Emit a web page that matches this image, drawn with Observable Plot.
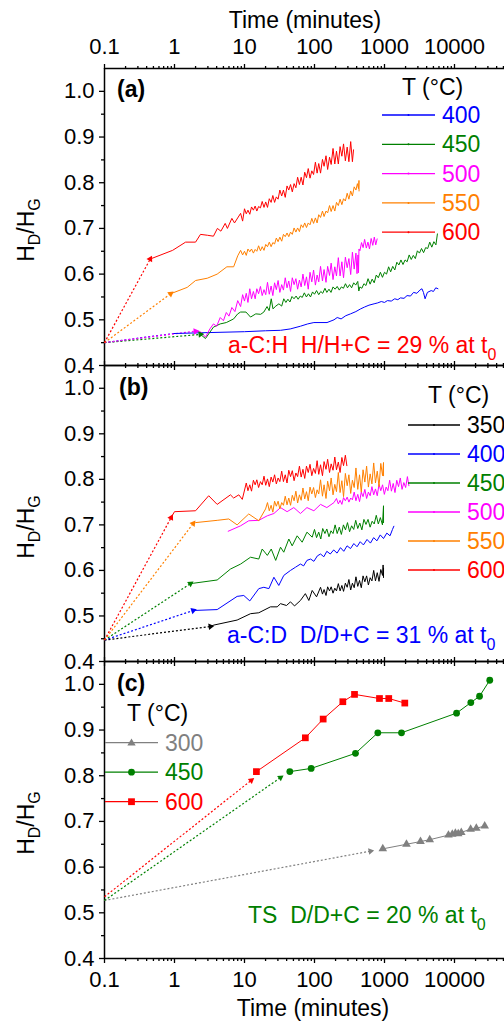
<!DOCTYPE html>
<html><head><meta charset="utf-8">
<script src="https://cdn.jsdelivr.net/npm/d3@7"></script>
<script src="https://cdn.jsdelivr.net/npm/@observablehq/plot@0.6"></script>
<style>
body{margin:0;background:#fff;}
#wrap{position:relative;width:504px;height:1026px;overflow:hidden;background:#fff;}
</style></head><body><div id="wrap"></div>
<script>
const FONT = '"Liberation Sans", Arial, Helvetica, sans-serif';

// ---------- scales / ticks ----------
const xDomain = [0.1, 51800];
const yDomain = [0.4, 1.05];
const xMajor = [0.1, 1, 10, 100, 1000, 10000];
const xMinorMult = [2, 3, 4, 5, 6, 7, 8, 9];
const yMajor = [0.4, 0.5, 0.6, 0.7, 0.8, 0.9, 1.0];
const yMinor = [0.45, 0.55, 0.65, 0.75, 0.85, 0.95];

// ---------- categories ----------
const tempsA = ["400", "450", "500", "550", "600"];
const tempsB = ["350", "400", "450", "500", "550", "600"];
const tempsC = ["300", "450", "600"];
const tempColors = {"300": "#808080", "350": "#000000", "400": "#0000ff", "450": "#008000", "500": "#ff00ff", "550": "#ff8000", "600": "#ff0000"};

// ---------- panel (a) a-C:H : [time (min), HD/HG] ----------
const a400 = [[0.98,0.470],[3,0.472],[10,0.474],[20,0.476],[32.7,0.477],[45,0.480],[63,0.486],[80,0.491],[98,0.494],[151,0.494],[190,0.500],[211,0.505],[240,0.502],[280,0.509],[327,0.513],[390,0.518],[457,0.524],[520,0.528],[600,0.532],[710,0.535],[800,0.537],[900,0.540],[1000,0.538],[1100,0.542],[1250,0.541],[1400,0.546],[1550,0.544],[1690,0.548],[1900,0.547],[2100,0.553],[2350,0.552],[2600,0.560],[2900,0.558],[3200,0.565],[3430,0.568],[3600,0.560],[3800,0.546],[4100,0.560],[4650,0.564],[5000,0.562],[5400,0.570],[5800,0.568]];
const a450 = [[2.35,0.468],[2.77,0.459],[3.6,0.484],[4.5,0.491],[5.5,0.494],[7.0,0.502],[8.0,0.513],[8.8,0.517],[10.5,0.517],[12.2,0.506],[14.5,0.513],[17,0.512],[18.9,0.517],[21,0.529],[22.5,0.520],[24.1,0.546],[25.5,0.524],[28,0.530],[31,0.535],[34,0.530],
  [36.4,0.546],[39,0.538],[41.7,0.545],[44.6,0.539],[47.7,0.551],[51,0.546],[54.6,0.552],[58.4,0.545],[62.5,0.552],[66.9,0.549],[71.6,0.559],[76.6,0.550],[82,0.557],[87.7,0.550],[93.8,0.561],[100,0.556],[107,0.564],[115,0.555],[123,0.562],[131,0.558],[141,0.569],[150,0.560],[161,0.567],[172,0.560],[184,0.572],[197,0.567],[211,0.573],[226,0.565],[242,0.572],[259,0.569],[277,0.579],[296,0.570],[317,0.577],[339,0.570],[363,0.581],[388,0.576],[415,0.584],[430,0.563],[444,0.572],[475,0.569],[508,0.579],[544,0.575],[582,0.590],[623,0.578],[666,0.589],[713,0.581],[763,0.598],[816,0.592],[873,0.604],[935,0.593],[1000,0.604],[1070,0.600],[1145,0.616],[1225,0.605],[1311,0.617],[1403,0.609],[1501,0.626],[1606,0.620],[1718,0.631],[1838,0.621],[1967,0.631],[2105,0.627],[2252,0.642],[2410,0.632],[2579,0.641],[2759,0.634],[2952,0.651],[3159,0.646],[3380,0.656],[3617,0.647],[3870,0.658],[4141,0.656],[4430,0.670],[4740,0.659],[5072,0.671],[5427,0.664],[5700,0.688]];
const a500 = [[2.0,0.475],[2.4,0.473],[2.77,0.462],[3.2,0.480],[3.6,0.491],[4.0,0.486],[4.5,0.505],[5.0,0.498],[5.5,0.516],[6.0,0.508],[6.6,0.527],[7.3,0.518],[8.0,0.542],
  [8.8,0.529],[9.4,0.555],[10,0.541],[10.6,0.558],[11.2,0.538],[11.9,0.568],[12.6,0.546],[13.4,0.562],[14.2,0.546],[15,0.568],[15.9,0.557],[16.9,0.573],[17.9,0.553],[19,0.566],[20.1,0.555],[21.3,0.582],[22.6,0.556],[24,0.574],[25.4,0.553],[26.9,0.581],[28.5,0.566],[30.2,0.586],[32,0.560],[34,0.577],[36,0.565],[38.2,0.592],[40.5,0.570],[42.9,0.585],[45.5,0.562],[48.2,0.592],[51.1,0.577],[54.2,0.590],[57.4,0.567],[60.9,0.587],[64.5,0.572],[68.4,0.600],[72.5,0.575],[76.8,0.594],[81.4,0.567],[86.3,0.604],[91.5,0.583],[97,0.609],[103,0.576],[109,0.598],[115,0.583],[122,0.617],[130,0.585],[137,0.610],[146,0.582],[154,0.617],[164,0.597],[173,0.624],[184,0.588],[195,0.616],[206,0.596],[219,0.636],[232,0.596],[246,0.627],[260,0.592],[276,0.637],[293,0.614],[310,0.634],[329,0.599],[348,0.648],[369,0.611],[391,0.646],[405,0.601],[418,0.642],[425,0.603],
  [432,0.655],[445,0.651],[470,0.669],[495,0.658],[520,0.676],[550,0.657],[580,0.670],[610,0.655],[645,0.678],[680,0.663],[715,0.681],[750,0.664],[785,0.677]];
const a550 = [[0.88,0.557],[1.52,0.571],[2.0,0.586],[2.94,0.591],[4.07,0.600],[5.6,0.616],[7.0,0.616],[8.0,0.640],
  [8.8,0.652],[9.4,0.642],[10,0.650],[10.6,0.641],[11.2,0.655],[11.9,0.649],[12.6,0.655],[13.4,0.646],[14.2,0.654],[15,0.650],[15.9,0.662],[16.9,0.651],[17.9,0.660],[19,0.652],[20.1,0.665],[21.3,0.660],[22.6,0.670],[24,0.660],[25.4,0.669],[26.9,0.666],[28.5,0.679],[30.2,0.671],[32,0.681],[34,0.672],[36,0.687],[38.2,0.682],[40.5,0.690],[42.9,0.682],[45.5,0.692],[48.2,0.687],[51.1,0.701],[54.2,0.692],[57.4,0.701],[60.9,0.693],[64.5,0.708],[68.4,0.702],[72.5,0.712],[76.8,0.702],[81.4,0.712],[86.3,0.708],[91.5,0.722],[97,0.711],[103,0.723],[109,0.712],[115,0.730],[122,0.724],[130,0.738],[137,0.726],[146,0.738],[154,0.734],[164,0.750],[173,0.737],[184,0.750],[195,0.738],[206,0.757],[219,0.750],[232,0.764],[246,0.752],[260,0.765],[276,0.760],[293,0.777],[310,0.764],[329,0.782],[348,0.771],[369,0.791],[391,0.784],[410,0.798],[425,0.787],[432,0.805],[433,0.782]];
const a600 = [[0.45,0.633],[0.94,0.652],[1.44,0.670],[2.0,0.670],[2.35,0.687],[2.96,0.685],[3.6,0.683],[4.1,0.700],[4.6,0.694],[5.3,0.711],[5.7,0.700],[6.6,0.722],[7.2,0.712],[8.8,0.733],[9.4,0.716],
  [10,0.743],[10.6,0.732],[11.2,0.740],[11.9,0.731],[12.6,0.747],[13.4,0.740],[14.2,0.749],[15,0.738],[15.9,0.748],[16.9,0.745],[17.9,0.759],[19,0.746],[20.1,0.758],[21.3,0.746],[22.6,0.765],[24,0.757],[25.4,0.772],[26.9,0.757],[28.5,0.769],[30.2,0.764],[32,0.784],[34,0.771],[36,0.784],[38.2,0.768],[40.5,0.793],[42.9,0.784],[45.5,0.796],[48.2,0.780],[51.1,0.798],[54.2,0.789],[57.4,0.812],[60.9,0.796],[64.5,0.812],[68.4,0.795],[72.5,0.823],[76.8,0.811],[81.4,0.831],[86.3,0.810],[91.5,0.826],[97,0.818],[103,0.845],[109,0.821],[115,0.842],[122,0.821],[130,0.851],[137,0.836],[146,0.859],[154,0.829],[164,0.856],[173,0.840],[184,0.875],[195,0.841],[206,0.869],[219,0.841],[232,0.879],[246,0.858],[260,0.885],[276,0.848],[293,0.878],[310,0.846],[329,0.890],[348,0.846],[361,0.872]];
const leadStartA = {"400": 0.45, "450": 0.45, "500": 0.45, "550": 0.45, "600": 0.45};
const leadEndA = {"400": [0.98, 0.470], "450": [2.35, 0.468], "500": [2.0, 0.475], "550": [0.88, 0.557], "600": [0.45, 0.633]};
const arrowsA = ["450", "500", "550", "600"];

// ---------- panel (b) a-C:D ----------
const b350 = [[3.27,0.477],[3.65,0.480],[7.85,0.491],[12.2,0.505],[16,0.507],[23.5,0.520],[29.3,0.520],[32.7,0.527],[39.8,0.523],[45.4,0.531],[51.8,0.522],[63,0.534],[74,0.549],[83,0.534],[92.7,0.556],[107,0.542],
  [122,0.563],[130,0.548],[137,0.558],[146,0.545],[154,0.564],[164,0.555],[173,0.564],[184,0.550],[195,0.561],[206,0.555],[219,0.571],[232,0.555],[246,0.567],[260,0.554],[276,0.572],[293,0.563],[310,0.580],[329,0.557],[348,0.572],[369,0.562],[391,0.586],[415,0.565],[440,0.578],[466,0.562],[494,0.588],[524,0.575],[555,0.588],[589,0.568],[624,0.584],[661,0.577],[701,0.600],[743,0.577],[788,0.595],[835,0.576],[885,0.602],[938,0.589],[955,0.612],[968,0.584],[969,0.605]];
const b400 = [[1.85,0.512],[4.07,0.514],[7.85,0.543],[9.77,0.545],[11.9,0.533],[16,0.560],[18.9,0.563],[22.3,0.560],[26.3,0.585],[30.9,0.567],[36.4,0.589],[45.4,0.600],[53.5,0.607],[63,0.614],[70,0.610],[78,0.622],[88,0.625],[98,0.620],[110,0.632],[122,0.636],[136,0.630],[150,0.642],[168,0.636],[188,0.645],[210,0.638],[235,0.650],[262,0.642],[292,0.654],[327,0.648],[365,0.659],[405,0.652],[450,0.663],[500,0.656],[563,0.668],[630,0.660],[700,0.672],[780,0.665],[870,0.678],[968,0.670],[1080,0.682],[1200,0.676],[1300,0.690],[1360,0.697]];
const b450 = [[1.69,0.571],[1.89,0.572],[4.07,0.579],[6.3,0.603],[8.8,0.614],[12.2,0.629],[16,0.625],[17.9,0.647],[21.2,0.633],[24.1,0.647],[27.9,0.622],[32.7,0.651],[36.4,0.640],[43,0.669],[48,0.654],[56.5,0.676],[66.6,0.662],[78,0.684],[92.7,0.673],
  [100,0.690],[107,0.672],[115,0.684],[123,0.669],[131,0.692],[141,0.681],[150,0.691],[161,0.674],[172,0.687],[184,0.681],[197,0.700],[211,0.681],[226,0.695],[242,0.679],[259,0.700],[277,0.689],[296,0.705],[317,0.685],[339,0.698],[363,0.690],[388,0.710],[415,0.692],[444,0.704],[475,0.689],[508,0.712],[544,0.701],[582,0.712],[623,0.695],[666,0.708],[713,0.702],[763,0.721],[816,0.702],[873,0.716],[935,0.700],[968,0.742],[969,0.705]];
const b500 = [[5.85,0.686],[8.8,0.698],[11.5,0.709],[16,0.710],[21.2,0.720],[26.3,0.725],[32.7,0.738],[40.6,0.729],[50.6,0.738],[63,0.725],[78,0.738],[98,0.731],[122,0.745],[150,0.738],[190,0.749],
  [206,0.758],[219,0.746],[232,0.754],[246,0.745],[260,0.760],[276,0.753],[293,0.761],[310,0.750],[329,0.759],[348,0.755],[369,0.772],[391,0.753],[415,0.767],[440,0.751],[466,0.772],[494,0.762],[524,0.778],[555,0.758],[589,0.772],[624,0.764],[661,0.784],[701,0.766],[743,0.779],[788,0.764],[835,0.789],[885,0.775],[938,0.788],[995,0.767],[1055,0.783],[1118,0.775],[1185,0.798],[1256,0.774],[1332,0.791],[1412,0.771],[1497,0.798],[1587,0.784],[1682,0.803],[1783,0.778],[1890,0.793],[2004,0.782],[2125,0.806],[2230,0.786]];
const b550 = [[1.85,0.703],[2.0,0.705],[4.07,0.710],[5.96,0.713],[7.85,0.700],[11.5,0.724],[16,0.709],[20,0.735],
  [21.3,0.749],[22.6,0.731],[24,0.743],[25.4,0.728],[26.9,0.752],[28.5,0.741],[30.2,0.752],[32,0.735],[34,0.749],[36,0.743],[38.2,0.763],[40.5,0.744],[42.9,0.759],[45.5,0.743],[48.2,0.765],[51.1,0.753],[54.2,0.774],[57.4,0.748],[60.9,0.766],[64.5,0.754],[68.4,0.781],[72.5,0.757],[76.8,0.773],[81.4,0.753],[86.3,0.783],[91.5,0.768],[97,0.782],[103,0.760],[109,0.777],[115,0.768],[122,0.799],[130,0.763],[137,0.788],[146,0.758],[154,0.796],[164,0.775],[173,0.803],[184,0.766],[195,0.789],[206,0.773],[219,0.815],[232,0.771],[246,0.797],[260,0.762],[276,0.813],[293,0.786],[310,0.810],[329,0.769],[348,0.798],[369,0.782],[391,0.825],[415,0.778],[440,0.810],[466,0.772],[494,0.821],[524,0.794],[555,0.829],[589,0.783],[624,0.812],[661,0.790],[701,0.836],[743,0.792],[788,0.818],[835,0.784],[885,0.835],[938,0.808],[968,0.837],[969,0.808]];
const b600 = [[0.895,0.716],[1.0,0.729],[2.0,0.731],[3.08,0.764],[4.07,0.745],[6.3,0.766],[7,0.759],[8.3,0.766],[9.3,0.756],
  [10.6,0.792],[11.2,0.775],[11.9,0.788],[12.6,0.774],[13.4,0.798],[14.2,0.788],[15,0.799],[15.9,0.782],[16.9,0.795],[17.9,0.788],[19,0.807],[20.1,0.787],[21.3,0.801],[22.6,0.784],[24,0.805],[25.4,0.794],[26.9,0.810],[28.5,0.790],[30.2,0.803],[32,0.795],[34,0.818],[36,0.795],[38.2,0.810],[40.5,0.792],[42.9,0.820],[45.5,0.806],[48.2,0.819],[51.1,0.797],[54.2,0.814],[57.4,0.806],[60.9,0.829],[64.5,0.805],[68.4,0.822],[72.5,0.802],[76.8,0.829],[81.4,0.815],[86.3,0.833],[91.5,0.808],[97,0.824],[103,0.813],[109,0.841],[115,0.811],[122,0.832],[130,0.808],[137,0.839],[146,0.822],[154,0.844],[164,0.815],[173,0.834],[184,0.820],[195,0.849],[206,0.821],[219,0.838],[232,0.815],[246,0.848],[260,0.830],[276,0.853],[290,0.830]];
const leadStartB = {"350": 0.447, "400": 0.447, "450": 0.447, "550": 0.447, "600": 0.447};
const leadEndB = {"350": [3.27, 0.477], "400": [1.85, 0.512], "450": [1.69, 0.571], "550": [1.85, 0.703], "600": [0.895, 0.716]};
const arrowsB = ["350", "400", "450", "550", "600"];

// ---------- panel (c) TS ----------
const c300 = [[946,0.640],[2060,0.650],[3270,0.656],[4430,0.660],[8200,0.670],[9300,0.672],[10300,0.674],[11300,0.673],[12500,0.676],[17000,0.683],[20500,0.685],[27000,0.690]];
const c450 = [[44.4,0.809],[89.6,0.816],[385,0.849],[803,0.894],[1750,0.894],[10700,0.937],[17100,0.960],[22800,0.974],[31900,1.009]];
const c600 = [[14.8,0.809],[74,0.883],[133,0.924],[254,0.962],[373,0.978],[848,0.969],[1150,0.969],[1950,0.959]];
const leadStartC = {"300": 0.527, "450": 0.527, "600": 0.535};
const leadEndC = {"300": [631, 0.635], "450": [32.7, 0.796], "600": [12.5, 0.790]};
const arrowsC = ["300", "450", "600"];
const symbolsC = {"300": "triangle", "450": "circle", "600": "square"};
const symbolR = {"triangle": 3.2, "circle": 3.4, "square": 3.8};

// ---------- build ----------
const xMinor = xMajor.flatMap(d => xMinorMult.map(m => d * m)).filter(d => d <= xDomain[1]);
const axisStroke = 1.3;

function buildPanel(cfg) {
  const {temps, series, leadStart, leadEnd, arrows, height, marginTop, marginBottom, topText, bottomText, symbols} = cfg;
  const xs = Plot.scale({x: {type: "log", domain: xDomain, range: [104, 504]}});
  const ys = Plot.scale({y: {domain: yDomain, range: [height - marginBottom, marginTop]}});
  const leads = temps.filter(T => leadEnd[T]).map(T => {
    const d = {T, t0: xDomain[0], v0: leadStart[T], t1: leadEnd[T][0], v1: leadEnd[T][1]};
    const dx = xs.apply(d.t1) - xs.apply(d.t0);
    const dy = ys.apply(d.v1) - ys.apply(d.v0);
    d.angle = Math.atan2(dx, -dy) * 180 / Math.PI;
    return d;
  });
  const marks = [
    Plot.ruleX([xDomain[0]], {stroke: "#000", strokeWidth: 1.5}),
    Plot.ruleY(yDomain, {stroke: "#000", strokeWidth: 1.5}),
    Plot.axisY({ticks: yMajor, tickSize: 5, tickPadding: 5, tickFormat: d3.format(".1f"), label: null, strokeWidth: axisStroke}),
    Plot.axisY({ticks: yMinor, tickSize: 3, fill: "none", label: null, strokeWidth: axisStroke})
  ];
  for (const anchor of ["top", "bottom"]) {
    const withText = (anchor === "top" && topText) || (anchor === "bottom" && bottomText);
    marks.push(Plot.axisX({anchor, ticks: xMajor, tickSize: 5, tickPadding: anchor === "top" ? 10 : 8,
      tickFormat: d => String(d), fill: withText ? "#000" : "none", label: null, strokeWidth: axisStroke}));
    marks.push(Plot.axisX({anchor, ticks: xMinor, tickSize: 3, fill: "none", label: null, strokeWidth: axisStroke}));
  }
  for (const d of leads) {
    marks.push(Plot.link([d], {x1: "t0", y1: "v0", x2: "t1", y2: "v1", stroke: tempColors[d.T], strokeWidth: 1.2, strokeDasharray: "2,2"}));
  }
  for (const T of temps) {
    marks.push(Plot.line(series[T], {x: d => d[0], y: d => d[1], stroke: tempColors[T], strokeWidth: 1}));
    if (symbols) {
      marks.push(Plot.dot(series[T], {x: d => d[0], y: d => d[1], symbol: symbols[T], r: symbolR[symbols[T]], fill: tempColors[T], stroke: "none"}));
    }
  }
  for (const d of leads.filter(d => arrows.includes(d.T))) {
    marks.push(Plot.dot([d], {x: "t1", y: "v1", symbol: "triangle", r: 2.4, fill: tempColors[d.T], stroke: "none", rotate: "angle"}));
  }
  const svg = Plot.plot({
    width: 504, height, marginLeft: 104, marginRight: 0, marginTop, marginBottom,
    x: {type: "log", domain: xDomain},
    y: {domain: yDomain},
    style: {fontFamily: FONT, fontSize: "22px", color: "#000", background: "transparent", overflow: "visible"},
    marks
  });
  svg.style.position = "absolute";
  svg.style.left = "0px";
  svg.style.top = cfg.top + "px";
  return svg;
}

const wrap = document.getElementById("wrap");
wrap.appendChild(buildPanel({temps: tempsA, series: {"400": a400, "450": a450, "500": a500, "550": a550, "600": a600},
  leadStart: leadStartA, leadEnd: leadEndA, arrows: arrowsA, height: 365, marginTop: 68, marginBottom: 0, topText: true, bottomText: false, top: 0}));
wrap.appendChild(buildPanel({temps: tempsB, series: {"350": b350, "400": b400, "450": b450, "500": b500, "550": b550, "600": b600},
  leadStart: leadStartB, leadEnd: leadEndB, arrows: arrowsB, height: 296, marginTop: 0, marginBottom: 0, topText: false, bottomText: false, top: 365}));
wrap.appendChild(buildPanel({temps: tempsC, series: {"300": c300, "450": c450, "600": c600},
  leadStart: leadStartC, leadEnd: leadEndC, arrows: arrowsC, height: 365, marginTop: 0, marginBottom: 68, topText: false, bottomText: true, symbols: symbolsC, top: 661}));

// ---------- overlay texts & legends ----------
const NB = "\u00a0";
const sub = (s, dy) => `<tspan dy="${dy}" font-size="16">${s}</tspan>`;
function legendLines(temps, x1, x2, xt, y0, step, symbols) {
  return temps.map((T, i) => {
    const y = y0 + i * step;
    const c = tempColors[T];
    const xm = (x1 + x2) / 2;
    let mk = `<circle cx="${xm}" cy="${y}" r="1" fill="${c}"/>`;
    if (symbols) {
      const s = symbols[T];
      if (s === "circle") mk = `<circle cx="${xm}" cy="${y}" r="3.4" fill="${c}"/>`;
      else if (s === "square") mk = `<rect x="${xm - 3.4}" y="${y - 3.4}" width="6.8" height="6.8" fill="${c}"/>`;
      else mk = `<path d="M${xm},${y - 4.3}L${xm + 4.2},${y + 2.9}L${xm - 4.2},${y + 2.9}Z" fill="${c}"/>`;
    }
    return `<line x1="${x1}" x2="${x2}" y1="${y}" y2="${y}" stroke="${c}" stroke-width="1.3"/>${mk}
      <text x="${xt}" y="${y + 8}" fill="${c}">${T}</text>`;
  }).join("");
}
const yTitle = (cy) => `<text transform="translate(34,${cy}) rotate(-90)" text-anchor="middle">H${sub("D", 6)}<tspan dy="-6">/H</tspan>${sub("G", 6)}</text>`;
const overlay = `<svg width="504" height="1026" style="position:absolute;left:0;top:0;font-family:${FONT.replace(/"/g, "'")};font-size:23px" xmlns="http://www.w3.org/2000/svg">
  <text x="305" y="28" text-anchor="middle">Time (minutes)</text>
  <text x="313" y="1016" text-anchor="middle">Time (minutes)</text>
  ${yTitle(230)}${yTitle(527)}${yTitle(823)}
  <text x="117" y="97" font-weight="bold">(a)</text>
  <text x="119" y="395" font-weight="bold">(b)</text>
  <text x="117" y="691" font-weight="bold">(c)</text>
  <text x="402" y="95">T (°C)</text>
  <text x="428" y="403">T (°C)</text>
  <text x="127" y="721">T (°C)</text>
  ${legendLines(tempsA, 382, 435, 442, 115, 29.3)}
  ${legendLines(tempsB, 408, 460, 467, 425, 29)}
  ${legendLines(tempsC, 105, 158, 165, 742.7, 29.5, symbolsC)}
  <text x="228" y="353" fill="#ff0000">a-C:H${NB}${NB}H/H+C = 29 % at t${sub("0", 7)}</text>
  <text x="227" y="643" fill="#0000ff">a-C:D${NB}${NB}D/D+C = 31 % at t${sub("0", 7)}</text>
  <text x="248" y="923" fill="#008000">TS${NB}${NB}D/D+C = 20 % at t${sub("0", 7)}</text>
</svg>`;
wrap.insertAdjacentHTML("beforeend", overlay);
</script></body></html>
